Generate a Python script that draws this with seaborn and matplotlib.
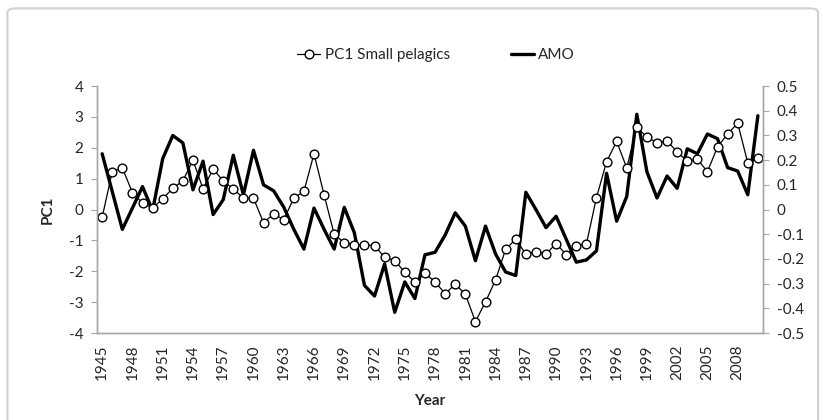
import numpy as np
import pandas as pd
import matplotlib
matplotlib.use("Agg")
import matplotlib.pyplot as plt
import seaborn as sns
from matplotlib.lines import Line2D
from matplotlib.patches import FancyBboxPatch

# data
years = list(range(1945, 2011))
pc1 = [-0.25, 1.23, 1.35, 0.55, 0.21, 0.05, 0.35, 0.69, 0.93, 1.60,
       0.67, 1.31, 0.93, 0.67, 0.37, 0.37, -0.43, -0.14, -0.33, 0.37,
       0.59, 1.81, 0.48, -0.80, -1.07, -1.14, -1.14, -1.17, -1.55, -1.65,
       -2.03, -2.35, -2.06, -2.35, -2.72, -2.42, -2.74, -3.63, -2.99, -2.28,
       -1.28, -0.96, -1.44, -1.36, -1.44, -1.10, -1.46, -1.17, -1.12, 0.39,
       1.55, 2.21, 1.35, 2.67, 2.35, 2.16, 2.22, 1.87, 1.57, 1.63,
       1.23, 2.03, 2.45, 2.80, 1.51, 1.67]
amo = [0.226, 0.073, -0.080, 0.006, 0.093, -0.004, 0.206, 0.300, 0.270, 0.080,
       0.196, -0.020, 0.040, 0.220, 0.060, 0.240, 0.100, 0.076, 0.010, -0.080,
       -0.160, 0.006, -0.080, -0.160, 0.009, -0.094, -0.307, -0.350, -0.220, -0.416,
       -0.293, -0.360, -0.183, -0.173, -0.103, -0.013, -0.067, -0.207, -0.067, -0.180,
       -0.253, -0.267, 0.070, 0.000, -0.073, -0.027, -0.120, -0.213, -0.204, -0.167,
       0.147, -0.047, 0.053, 0.386, 0.153, 0.047, 0.136, 0.086, 0.246, 0.226,
       0.306, 0.287, 0.170, 0.156, 0.060, 0.380]
year_ticks = list(range(1945, 2009, 3))
left_ticks = [-4, -3, -2, -1, 0, 1, 2, 3, 4]
right_ticks = [-0.5, -0.4, -0.3, -0.2, -0.1, 0, 0.1, 0.2, 0.3, 0.4, 0.5]

df = pd.DataFrame({"Year": years, "PC1": pc1, "AMO": amo})

sns.set_style("white")
plt.rcParams["font.family"] = ["Lato", "DejaVu Sans"]

axis_grey = "#a6a6a6"
text_col = "#262626"

fig = plt.figure(figsize=(8.23, 4.20), dpi=100)
ax = fig.add_axes([0.118, 0.207, 0.809, 0.588])
ax2 = ax.twinx()

# AMO first so the circles sit on top
sns.lineplot(data=df, x="Year", y="AMO", ax=ax2, color="black", linewidth=2.4)
sns.lineplot(data=df, x="Year", y="PC1", ax=ax, color="black", linewidth=0.9,
             marker="o", markersize=6.3, markerfacecolor="white",
             markeredgecolor="black", markeredgewidth=1.0)
ax.set_zorder(ax2.get_zorder() + 1)
ax.patch.set_visible(False)

ax.set_xlim(1944.5, 2010.5)
ax.set_ylim(-4, 4)
ax2.set_ylim(-0.5, 0.5)
ax.set_xticks(year_ticks)
ax.set_xticklabels([str(y) for y in year_ticks], rotation=90, fontsize=11, color=text_col)
ax.set_yticks(left_ticks)
ax.set_yticklabels([str(t) for t in left_ticks], fontsize=11, color=text_col)
ax2.set_yticks(right_ticks)
ax2.set_yticklabels([("%g" % t) for t in right_ticks], fontsize=11, color=text_col)

ax.set_xlabel("Year", fontsize=11, fontweight="bold", color=text_col, labelpad=10)
ax.set_ylabel("PC1", fontsize=11, fontweight="bold", color=text_col, labelpad=10)
ax2.set_ylabel("")

for a in (ax, ax2):
    for s in a.spines.values():
        s.set_color(axis_grey)
        s.set_linewidth(1.0)
    a.spines["top"].set_visible(False)
ax.tick_params(axis="y", direction="out", length=4, color=axis_grey, pad=6)
ax.tick_params(axis="x", length=0, pad=8)
ax2.tick_params(axis="y", direction="out", length=4, color=axis_grey, pad=6)

handles = [
    Line2D([0], [0], color="black", linewidth=0.9, marker="o", markersize=6.3,
           markerfacecolor="white", markeredgecolor="black"),
    Line2D([0], [0], color="black", linewidth=2.4),
]
fig.legend(handles, ["PC1 Small pelagics", "AMO"], loc="center", ncol=2,
           bbox_to_anchor=(0.53, 0.868), frameon=False, fontsize=11,
           handlelength=1.5, handletextpad=0.3, columnspacing=4.0)

# light chart border like the spreadsheet export
border = FancyBboxPatch((0.009, -0.05), 0.985, 1.03, boxstyle="round,pad=0,rounding_size=0.01",
                        transform=fig.transFigure, fill=False, edgecolor="#d0d0d0",
                        linewidth=1.5)
fig.patches.append(border)

plt.savefig("out.png", dpi=100)
